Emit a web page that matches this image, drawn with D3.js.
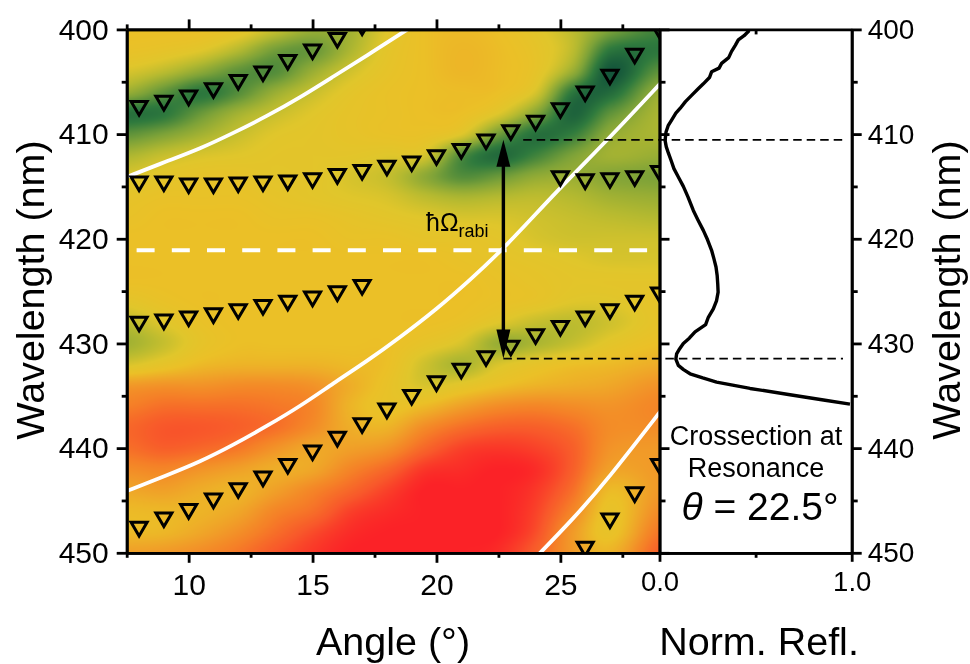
<!DOCTYPE html>
<html><head><meta charset="utf-8">
<script src="https://cdn.jsdelivr.net/npm/d3@7/dist/d3.min.js"></script>
<style>
html,body{margin:0;padding:0;background:#fff;overflow:hidden}
#wrap{position:relative;width:970px;height:664px}
canvas,svg{position:absolute;left:0;top:0}
text{font-family:"Liberation Sans",Arial,sans-serif;fill:#000}
</style></head><body><div id="wrap"></div>
<script>
// ---------- data ----------
const gridAngles = [7.5,9,10.5,12,13.5,15,16.5,18,19.5,21,22.5,24,25.5,27,29];
const gridWavelengths = [400,402,404,406,408,410,412,414,416,418,420,422,424,426,428,430,432,434,436,438,440,442,444,446,448,450];
const gridValues = [
[60,60,60,56,46,36,38,52,60,62,60,54,44,30,18],
[58,56,52,42,28,26,40,54,60,63,61,56,44,14,14],
[50,44,34,24,22,36,48,56,60,63,61,56,36,4,24],
[36,24,14,22,36,46,54,58,60,61,60,50,14,10,36],
[12,14,26,38,46,52,56,58,60,60,52,32,8,24,40],
[24,30,38,46,52,54,56,58,58,52,28,12,16,34,40],
[40,46,50,52,54,54,54,52,50,22,10,18,30,38,36],
[50,54,56,56,54,54,50,46,34,22,26,34,36,32,30],
[56,58,58,58,56,54,52,50,44,40,42,44,42,38,36],
[58,60,60,60,58,58,56,54,52,50,50,48,46,44,42],
[60,60,60,60,60,60,58,58,56,56,54,50,48,48,48],
[60,60,60,60,60,60,60,60,60,58,56,54,52,50,50],
[60,60,60,60,60,60,60,60,60,60,58,56,54,54,54],
[54,58,60,60,60,60,60,60,60,60,58,56,52,52,56],
[44,52,58,60,60,60,60,60,60,58,52,46,44,48,56],
[38,46,56,60,60,60,60,60,56,50,36,40,46,54,60],
[50,56,62,64,64,64,62,60,48,40,50,56,60,62,66],
[72,74,74,76,76,74,66,58,50,54,60,64,66,68,74],
[80,84,84,84,82,78,64,58,62,70,76,78,76,74,78],
[86,90,90,88,84,76,66,64,76,84,88,88,84,76,76],
[84,88,86,82,74,68,70,74,86,94,96,94,88,74,72],
[76,78,74,70,66,68,78,86,96,98,100,98,88,70,72],
[68,70,66,64,70,78,86,94,100,100,100,96,84,62,72],
[62,63,64,68,78,84,94,98,100,100,100,94,78,58,76],
[62,63,68,75,84,92,98,100,100,100,100,92,72,58,82],
[70,72,76,82,90,96,100,100,100,100,98,88,72,64,88]
];
const colorStops = [0,15,30,42,52,60,70,80,90,100];
const colorValues = ["#0b4a3a","#2f7a3d","#7da238","#b4b930","#e0c62b","#ebc027","#f0a028","#f57f27","#f8572a","#fb2227"];

const markerSeries = [
 {a:[8,9,10,11,12,13,14,15,16,17], w:[407.6,407.1,406.6,405.9,405.1,404.3,403.2,402.2,401.1,399.9]},
 {a:[8,9,10,11,12,13,14,15,16,17,18,19,20,21,22,23,24,25,26,27,28,29],
  w:[414.8,414.8,415.0,415.0,414.9,414.8,414.7,414.5,414.1,413.7,413.3,412.9,412.3,411.7,410.8,409.9,409.0,407.8,406.2,404.6,402.6,400.2]},
 {a:[25,26,27,28,29], w:[414.3,414.6,414.5,414.3,413.8]},
 {a:[8,9,10,11,12,13,14,15,16,17], w:[428.2,428.0,427.7,427.4,427.0,426.6,426.2,425.8,425.3,424.7]},
 {a:[8,9,10,11,12,13,14,15,16,17,18,19,20,21,22,23,24,25,26,27,28,29],
  w:[447.8,446.9,446.1,445.1,444.1,443.0,441.8,440.5,439.2,437.9,436.5,435.2,433.9,432.7,431.5,430.5,429.4,428.6,427.7,427.0,426.2,425.4]},
 {a:[26,27,28,29], w:[449.7,447.0,444.5,441.8]}
];
const whiteCurves = [
 {a:[7.5,9.11,10.46,11.8,13.15,14.5,15.84,17.19,18.7,19.5], w:[414.1,412.6,411.4,409.9,408.3,406.5,404.5,402.5,400.2,399.0]},
 {a:[7.5,9.11,10.46,11.8,13.15,14.5,15.84,17.19,18.54,20.02,21.37,22.78,24.87,26.89,29.1],
  w:[444.1,442.6,441.3,439.7,437.9,436.0,433.8,431.7,429.4,426.7,423.9,420.8,415.4,410.6,405.0]},
 {a:[23.9,25.54,26.89,29.1], w:[450.7,446.7,443.05,436.3]}
];
const reflWavelength = [400.1,400.6,401.0,401.5,402.1,402.7,403.25,403.7,404.05,404.6,405.2,405.7,406.3,406.9,407.55,408.0,408.66,409.2,409.8,410.6,411.2,411.8,412.5,413.3,414.1,415.0,416.0,417.3,418.2,419.2,420.1,421.1,421.9,422.7,423.5,424.3,425.1,425.9,426.7,427.5,428.2,428.9,429.5,430.0,430.5,431.0,431.5,432.1,432.5,432.9,433.3,433.7,434.3,434.9,435.4,435.8];
const reflValue = [0.467,0.44,0.41,0.395,0.375,0.36,0.323,0.31,0.271,0.26,0.228,0.20,0.167,0.135,0.107,0.085,0.063,0.045,0.034,0.029,0.035,0.046,0.06,0.075,0.098,0.124,0.148,0.176,0.20,0.228,0.25,0.271,0.283,0.294,0.30,0.303,0.305,0.297,0.28,0.254,0.24,0.185,0.155,0.124,0.105,0.089,0.085,0.098,0.125,0.159,0.225,0.297,0.471,0.679,0.853,0.991];
const rabiAngle = 22.7, rabiTop = 410.55, rabiBottom = 431.45;
const resonanceWavelength = 421.1, resonanceRange = [7.9,28.5];
const wavelengthMajor = [400,410,420,430,440,450];
const wavelengthMinor = [405,415,425,435,445];
const angleMajor = [10,15,20,25];
const angleMinor = [7.5,12.5,17.5,22.5,27.5];

// ---------- layout ----------
const X0=126.7,X1=659.5,X2=851.7,Y0=29.4,Y1=552.8;
const x = d3.scaleLinear().domain([7.5,29]).range([X0,X1]);
const y = d3.scaleLinear().domain([400,450]).range([Y0,Y1]);
const r = d3.scaleLinear().domain([0,1]).range([X1,X2]);
const wrap = d3.select("#wrap");

// ---------- heatmap ----------
const color = d3.scaleLinear().domain(colorStops).range(colorValues).clamp(true);
const iAngle = d3.scaleLinear().domain(gridAngles).range(gridAngles.map((d,i)=>i)).clamp(true);
const iWave = d3.scaleLinear().domain(gridWavelengths).range(gridWavelengths.map((d,i)=>i)).clamp(true);
function cr(p0,p1,p2,p3,t){return 0.5*((2*p1)+(-p0+p2)*t+(2*p0-5*p1+4*p2-p3)*t*t+(-p0+3*p1-3*p2+p3)*t*t*t);}
function sample(a,w){
  const fx=iAngle(a),fy=iWave(w);
  const cx=Math.min(Math.floor(fx),gridAngles.length-2),cy=Math.min(Math.floor(fy),gridWavelengths.length-2);
  const tx=fx-cx,ty=fy-cy,rows=[];
  for(let j=-1;j<=2;j++){
    const R=gridValues[Math.max(0,Math.min(gridValues.length-1,cy+j))];
    const g=k=>R[Math.max(0,Math.min(R.length-1,cx+k))];
    rows.push(cr(g(-1),g(0),g(1),g(2),tx));
  }
  return cr(rows[0],rows[1],rows[2],rows[3],ty);
}
const canvas = wrap.append("canvas").attr("width",970).attr("height",664).node();
const ctx = canvas.getContext("2d");
for(let px=Math.floor(X0);px<Math.ceil(X1);px++){
  for(let py=Math.floor(Y0);py<Math.ceil(Y1);py++){
    ctx.fillStyle=color(sample(x.invert(px+.5),y.invert(py+.5)));
    ctx.fillRect(px,py,1,1);
  }
}

// ---------- svg ----------
const svg = wrap.append("svg").attr("width",970).attr("height",664);
svg.append("defs").append("clipPath").attr("id","plot").append("rect")
  .attr("x",X0).attr("y",Y0).attr("width",X1-X0).attr("height",Y1-Y0);
const plot = svg.append("g").attr("clip-path","url(#plot)");

const line = d3.line().x(d=>x(d[0])).y(d=>y(d[1])).curve(d3.curveBasis);
whiteCurves.forEach(c=>{
  plot.append("path").attr("d",line(d3.zip(c.a,c.w))).attr("fill","none").attr("stroke","#fff").attr("stroke-width",3.8);
});
plot.append("line").attr("x1",x(resonanceRange[0])).attr("x2",x(resonanceRange[1]))
  .attr("y1",y(resonanceWavelength)).attr("y2",y(resonanceWavelength))
  .attr("stroke","#fff").attr("stroke-width",3.8).attr("stroke-dasharray","18 17.2");

markerSeries.forEach(s=>{
  plot.selectAll(null).data(d3.zip(s.a,s.w)).join("path")
    .attr("d","M-8,-7.4L8,-7.4L0,6.2Z")
    .attr("transform",d=>`translate(${x(d[0])},${y(d[1])})`)
    .attr("fill","none").attr("stroke","#000").attr("stroke-width",3).attr("stroke-linejoin","miter");
});

// thin dashed guides
[[rabiTop,x(23.5)],[rabiBottom,x(rabiAngle)]].forEach(([w,sx])=>{
  svg.append("line").attr("x1",sx).attr("x2",843).attr("y1",y(w)).attr("y2",y(w))
    .attr("stroke","#000").attr("stroke-width",1.7).attr("stroke-dasharray","8.5 5");
});

// Rabi arrow
const ax=x(rabiAngle),ty=y(rabiTop),by=y(rabiBottom);
svg.append("line").attr("x1",ax).attr("x2",ax).attr("y1",ty+20).attr("y2",by-20).attr("stroke","#000").attr("stroke-width",3.4);
svg.append("path").attr("d",`M${ax},${ty}L${ax+7},${ty+27}L${ax-7},${ty+27}Z`).attr("fill","#000");
svg.append("path").attr("d",`M${ax},${by}L${ax+7},${by-29}L${ax-7},${by-29}Z`).attr("fill","#000");

// reflectance curve
svg.append("path").attr("d",d3.line().x(d=>r(d[0])).y(d=>y(d[1]))(d3.zip(reflValue,reflWavelength)))
  .attr("fill","none").attr("stroke","#000").attr("stroke-width",3.4).attr("stroke-linejoin","round");

// ---------- axes ----------
function style(g,size){
  g.selectAll("path.domain").attr("stroke","#000").attr("stroke-width",2.8);
  g.selectAll(".tick line").attr("stroke","#000").attr("stroke-width",2.8);
  g.selectAll("text").style("font-size",size+"px").style("font-family",'"Liberation Sans",Arial,sans-serif').attr("fill","#000");
}
function ax2(axis,tx,ty,size){const g=svg.append("g").attr("transform",`translate(${tx},${ty})`).call(axis);style(g,size||26);return g;}
const noLab=()=>"";
// left
ax2(d3.axisLeft(y).tickValues(wavelengthMajor).tickSize(10).tickSizeOuter(0).tickPadding(8).tickFormat(d3.format("d")),X0,0,30);
ax2(d3.axisLeft(y).tickValues(wavelengthMinor).tickSize(5).tickSizeOuter(0).tickFormat(noLab),X0,0);
// bottom & top of heatmap
ax2(d3.axisBottom(x).tickValues(angleMajor).tickSize(10).tickSizeOuter(0).tickPadding(11).tickFormat(d3.format("d")),0,Y1,30);
ax2(d3.axisBottom(x).tickValues(angleMinor).tickSize(5).tickSizeOuter(0).tickFormat(noLab),0,Y1);
ax2(d3.axisTop(x).tickValues(angleMajor).tickSize(10).tickSizeOuter(0).tickFormat(noLab),0,Y0);
ax2(d3.axisTop(x).tickValues(angleMinor).tickSize(5).tickSizeOuter(0).tickFormat(noLab),0,Y0);
// middle frame + inner ticks of the right panel
ax2(d3.axisRight(y).tickValues(wavelengthMajor).tickSize(10).tickSizeOuter(0).tickFormat(noLab),X1,0);
ax2(d3.axisRight(y).tickValues(wavelengthMinor).tickSize(6).tickSizeOuter(0).tickFormat(noLab),X1,0);
// right axis
ax2(d3.axisRight(y).tickValues(wavelengthMajor).tickSize(10).tickSizeOuter(0).tickPadding(6).tickFormat(d3.format("d")),X2,0,28);
ax2(d3.axisRight(y).tickValues(wavelengthMinor).tickSize(6).tickSizeOuter(0).tickFormat(noLab),X2,0);
// right panel bottom/top
ax2(d3.axisBottom(r).tickValues([0,1]).tickSize(9).tickSizeOuter(0).tickPadding(10).tickFormat(d3.format(".1f")),0,Y1,27.5);
ax2(d3.axisBottom(r).tickValues([0.5]).tickSize(5).tickSizeOuter(0).tickFormat(noLab),0,Y1);
ax2(d3.axisBottom(r).tickValues([0.5]).tickSize(5).tickSizeOuter(0).tickFormat(noLab),0,Y0);

// ---------- titles ----------
function t(str,tx,ty,size,anchor){return svg.append("text").attr("x",tx).attr("y",ty).attr("text-anchor",anchor||"middle").style("font-size",size+"px").text(str);}
t("Angle (°)",393,655,39.5);
t("Norm. Refl.",759,655,39.5);
svg.append("text").attr("transform","translate(44,290) rotate(-90)").attr("text-anchor","middle").style("font-size","39.5px").text("Wavelength (nm)");
svg.append("text").attr("transform","translate(960,290) rotate(-90)").attr("text-anchor","middle").style("font-size","39.5px").text("Wavelength (nm)");
t("Crossection at",756,445,27);
t("Resonance",756,477,27);
const th=svg.append("text").attr("x",760).attr("y",520).attr("text-anchor","middle").style("font-size","39px");
th.append("tspan").style("font-style","italic").text("θ");
th.append("tspan").text(" = 22.5°");
const rb=svg.append("text").attr("x",426).attr("y",231).style("font-size","25px");
rb.append("tspan").text("ħΩ");
rb.append("tspan").attr("dy",6).style("font-size","18px").text("rabi");
</script></body></html>
